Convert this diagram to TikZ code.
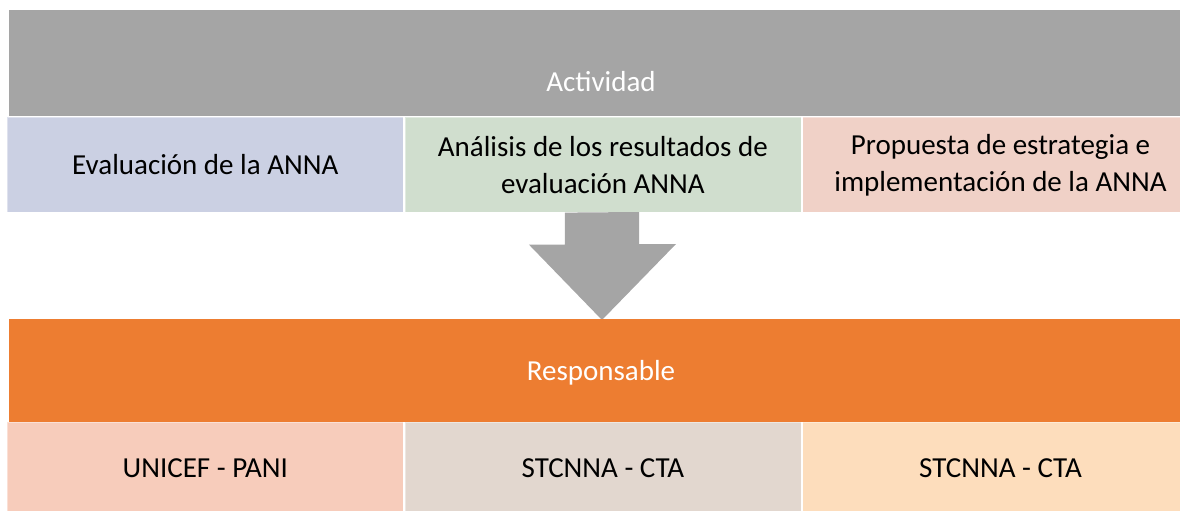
\documentclass[tikz,border=0pt]{standalone}
\usepackage{fontspec}
\setmainfont{Carlito}
\usetikzlibrary{positioning}

\definecolor{bandgray}{HTML}{A5A5A5}
\definecolor{bandorange}{HTML}{ED7D31}
\definecolor{cellblue}{HTML}{CBD0E3}
\definecolor{cellgreen}{HTML}{D0DECE}
\definecolor{cellrose}{HTML}{F0D1C7}
\definecolor{cellsalmon}{HTML}{F7CCBB}
\definecolor{cellbeige}{HTML}{E2D7CF}
\definecolor{cellpeach}{HTML}{FDDDBC}

\tikzset{
  band/.style={minimum width=1186pt, minimum height=106pt, inner sep=0pt, anchor=north west},
  cell/.style={minimum width=396pt, minimum height=95pt, inner sep=0pt, align=center,
    draw=white, draw opacity=0.4, line width=0.6pt, font=\fontsize{29}{37}\selectfont},
  bandtext/.style={text=white, font=\fontsize{29}{34}\selectfont}
}

\begin{document}
\begin{tikzpicture}[x=1pt, y=-1pt]
\useasboundingbox (0,0) rectangle (1180,511);
\clip (0,0) rectangle (1180,511);

% actividades
\node[band, fill=bandgray] (actband) at (9,10) {};
\node[bandtext] (acttext) at (601,82) {Actividad};

\node[cell, fill=cellblue, anchor=north west] (eval) at (7,117) {Evaluación de la ANNA};
\node[cell, fill=cellgreen, right=1pt of eval] (anal) {Análisis de los resultados de\\evaluación ANNA};
\node[cell, fill=cellrose, right=1pt of anal] (prop) {Propuesta de estrategia e\\implementación de la ANNA};

% flecha
\fill[bandgray] (anal.south) ++(-38,0) -- ++(0,32) -- ++(-36,0) -- (602,320)
  -- (676,244) -- ++(-37,0) -- ++(0,-32) -- cycle;

% responsables
\node[band, fill=bandorange, minimum height=103pt] (respband) at (9,319) {};
\node[bandtext] (resptext) at (601,373) {Responsable};

\node[cell, fill=cellsalmon, anchor=north west, minimum height=92pt] (unicef) at (7,422) {UNICEF - PANI};
\node[cell, fill=cellbeige, minimum height=92pt, right=1pt of unicef] (stc1) {STCNNA - CTA};
\node[cell, fill=cellpeach, minimum height=92pt, right=1pt of stc1] (stc2) {STCNNA - CTA};

\end{tikzpicture}
\end{document}
